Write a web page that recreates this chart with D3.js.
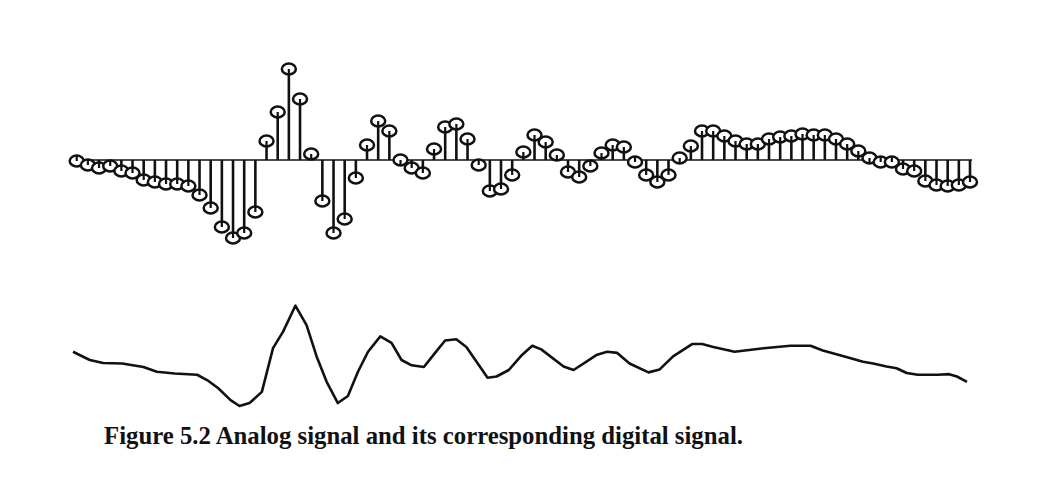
<!DOCTYPE html>
<html>
<head>
<meta charset="utf-8">
<script src="https://cdn.jsdelivr.net/npm/d3@7"></script>
<style>
  body { margin: 0; background: #fff; }
  svg { display: block; }
</style>
</head>
<body>
<div id="res"></div>
<script>
/* sample values of the digital signal (one per sample index 0..80) */
var samples = [
  -0.1, -0.5, -0.8, -0.6, -1.1, -1.3, -2.0, -2.2, -2.4, -2.4,
  -2.6, -3.5, -4.8, -6.7, -7.8, -7.3, -5.2, 1.9, 4.8, 9.1,
  6.1, 0.6, -4.1, -7.3, -5.9, -1.8, 1.5, 3.9, 2.9, 0.0,
  -0.8, -1.3, 1.1, 3.3, 3.6, 2.1, -0.5, -3.1, -2.9, -1.5,
  0.8, 2.5, 1.8, 0.5, -1.2, -1.7, -0.6, 0.7, 1.5, 1.3,
  -0.2, -1.5, -2.2, -1.5, 0.2, 1.4, 2.9, 2.9, 2.4, 1.9,
  1.6, 1.6, 2.1, 2.3, 2.4, 2.6, 2.5, 2.5, 2.1, 1.6,
  0.9, 0.2, -0.2, -0.2, -0.9, -1.1, -2.1, -2.5, -2.6, -2.5,
  -2.2
];

/* analog signal: time (in sample units) and amplitude */
var analogT = [
  0.0, 1.5, 2.7, 4.4, 6.3, 7.5, 9.1, 11.1, 12.0, 13.0,
  14.1, 14.9, 15.8, 16.9, 17.9, 18.8, 19.9, 20.9, 21.8, 22.7,
  23.7, 24.6, 25.5, 26.4, 27.5, 28.5, 29.4, 30.3, 31.4, 32.4,
  33.3, 34.3, 35.2, 37.1, 37.9, 39.0, 40.2, 41.1, 41.9, 43.9,
  44.8, 46.9, 47.8, 48.7, 49.8, 51.5, 52.5, 53.7, 55.4, 56.3,
  57.3, 59.2, 61.8, 64.2, 66.0, 67.1, 69.2, 70.7, 71.6, 72.8,
  73.7, 74.6, 75.6, 77.4, 78.4, 79.1, 80.0
];
var analogV = [
  1.4, 0.0, -0.5, -0.6, -1.2, -2.0, -2.3, -2.5, -3.4, -4.8,
  -6.8, -7.8, -7.3, -5.4, 2.0, 4.8, 9.2, 5.9, 0.6, -3.7,
  -7.3, -6.1, -2.0, 1.4, 4.0, 2.9, 0.0, -0.9, -1.2, 1.2,
  3.3, 3.5, 2.2, -3.0, -2.8, -1.7, 0.9, 2.4, 1.8, -1.1,
  -1.7, 0.9, 1.4, 1.2, -0.6, -2.1, -1.6, 0.6, 2.7, 2.7,
  2.2, 1.4, 2.0, 2.4, 2.4, 1.6, 0.5, -0.3, -0.6, -1.1,
  -1.4, -2.2, -2.5, -2.5, -2.4, -2.8, -3.7
];

var captionBold = "Figure 5.2";
var captionText = "Analog signal and its corresponding digital signal.";

/* size of the graphic */
var width = 1057;
var height = 477;

var svg = d3.select("#res")
  .append("svg")
    .attr("width", width)
    .attr("height", height);

svg.append("rect")
  .attr("width", width)
  .attr("height", height)
  .attr("fill", "#fff");

/* scales for the stem plot */
var xs = d3.scaleLinear().domain([0, 80]).range([76.7, 970]);
var ys = d3.scaleLinear().domain([0, 9]).range([160, 70]);

/* scales for the analog line */
var xa = d3.scaleLinear().domain([0, 80]).range([73, 967]);
var ya = d3.scaleLinear().domain([-7.8, 9.2]).range([406, 305.7]);

var ink = "#111";

/* baseline of the digital signal */
svg.append("line")
  .attr("x1", xs(0) - 4)
  .attr("x2", xs(80) + 2)
  .attr("y1", ys(0))
  .attr("y2", ys(0))
  .style("stroke", ink)
  .attr("stroke-width", 1.6);

var stems = svg.append("g");

stems.selectAll("line")
  .data(samples)
  .enter().append("line")
    .attr("x1", function(d, i) { return xs(i); })
    .attr("x2", function(d, i) { return xs(i); })
    .attr("y1", ys(0))
    .attr("y2", function(d) { return ys(d); })
    .style("stroke", ink)
    .attr("stroke-width", 2.6);

stems.selectAll("ellipse")
  .data(samples)
  .enter().append("ellipse")
    .attr("cx", function(d, i) { return xs(i); })
    .attr("cy", function(d) { return ys(d); })
    .attr("rx", 7)
    .attr("ry", 5.4)
    .style("fill", "#fff")
    .style("stroke", ink)
    .attr("stroke-width", 2.5);

/* small tick inside each circle where the stem ends */
stems.selectAll("line.tick")
  .data(samples)
  .enter().append("line")
    .attr("class", "tick")
    .attr("x1", function(d, i) { return xs(i); })
    .attr("x2", function(d, i) { return xs(i); })
    .attr("y1", function(d) { return ys(d) + (d >= 0 ? 5.4 : -5.4); })
    .attr("y2", function(d) { return ys(d); })
    .style("stroke", ink)
    .attr("stroke-width", 2.2);

/* analog signal */
var line = d3.line()
  .x(function(d) { return xa(d[0]); })
  .y(function(d) { return ya(d[1]); });

svg.append("path")
  .datum(d3.zip(analogT, analogV))
  .attr("d", line)
  .style("fill", "none")
  .style("stroke", ink)
  .attr("stroke-width", 2.6)
  .attr("stroke-linejoin", "round");

/* caption */
var cap = svg.append("text")
  .attr("x", 104)
  .attr("y", 444)
  .attr("textLength", 639)
  .attr("lengthAdjust", "spacingAndGlyphs")
  .style("font-family", "'Liberation Serif', 'DejaVu Serif', serif")
  .style("font-size", "24.5px")
  .style("font-weight", "bold")
  .style("fill", ink);

cap.append("tspan")
  .text(captionBold + " ");

cap.append("tspan")
  .text(captionText);
</script>
</body>
</html>
